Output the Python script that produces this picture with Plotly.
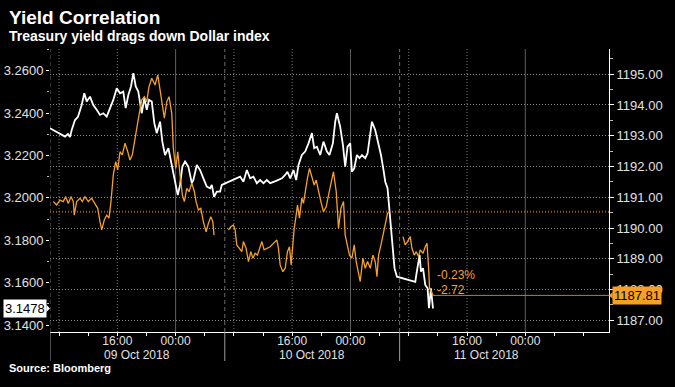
import plotly.graph_objects as go
import pandas as pd

BASE = pd.Timestamp("2018-10-09 00:00")

# Treasury yield (white, left axis): hours since 09 Oct 2018 00:00, yield
white_hours = [6.75, 8.82, 9.23, 9.50, 9.74, 10.19, 10.60, 11.11, 11.47, 11.80,
               12.25, 12.70, 13.17, 13.62, 14.08, 14.54, 15.00, 15.45, 15.92, 16.37,
               16.82, 17.15, 17.51, 17.88, 18.20, 18.53, 18.88, 19.35, 19.71, 20.04,
               20.35, 20.73, 21.08, 21.41, 21.87, 22.18, 22.55, 23.01, 23.47, 23.93,
               24.30, 24.61, 24.93, 25.30, 25.75, 26.22, 26.44, 26.91, 27.36, 27.81,
               28.28, 28.74, 28.97, 29.28, 29.66, 30.11, 30.34, 32.86, 33.31, 33.78,
               34.23, 34.68, 35.15, 35.60, 36.06, 36.52, 36.98, 37.80, 38.12, 38.59,
               39.04, 39.35, 39.73, 40.18, 40.55, 40.87, 41.33, 41.79, 42.24, 42.71,
               43.02, 43.39, 43.85, 44.30, 44.77, 45.12, 45.59, 45.91, 46.14, 46.59,
               46.97, 47.28, 47.60, 47.97, 48.20, 48.52, 48.89, 49.25, 49.58, 50.03,
               50.35, 50.62, 50.95, 51.40, 51.86, 52.19, 52.54, 52.78, 53.09, 53.37,
               53.60, 53.83, 54.05, 54.38, 56.90, 57.04, 57.21, 57.49, 57.68, 57.96,
               58.27, 58.59, 58.78, 59.05, 59.33]
white_yield = [3.2328, 3.2289, 3.2301, 3.2287, 3.2320, 3.2367, 3.2382, 3.2438, 3.2493, 3.2454,
               3.2477, 3.2438, 3.2415, 3.2391, 3.2399, 3.2383, 3.2423, 3.2462, 3.2517, 3.2493,
               3.2501, 3.2423, 3.2485, 3.2525, 3.2588, 3.2525, 3.2501, 3.2399, 3.2470, 3.2415,
               3.2462, 3.2454, 3.2352, 3.2305, 3.2359, 3.2265, 3.2202, 3.2234, 3.2155, 3.2076,
               3.2013, 3.2061, 3.2147, 3.2171, 3.2147, 3.2069, 3.2084, 3.2155, 3.2131, 3.2092,
               3.2053, 3.2045, 3.2061, 3.2005, 3.2029, 3.2029, 3.2061, 3.2100, 3.2076, 3.2131,
               3.2092, 3.2100, 3.2069, 3.2084, 3.2069, 3.2084, 3.2069, 3.2080, 3.2084, 3.2092,
               3.2108, 3.2123, 3.2092, 3.2131, 3.2084, 3.2155, 3.2202, 3.2218, 3.2257, 3.2305,
               3.2234, 3.2241, 3.2202, 3.2265, 3.2218, 3.2202, 3.2257, 3.2359, 3.2399, 3.2336,
               3.2249, 3.2147, 3.2241, 3.2257, 3.2123, 3.2139, 3.2202, 3.2187, 3.2202, 3.2187,
               3.2210, 3.2289, 3.2359, 3.2320, 3.2249, 3.2202, 3.2131, 3.2076, 3.2045, 3.1935,
               3.1856, 3.1730, 3.1668, 3.1628, 3.1604, 3.1636, 3.1668, 3.1730, 3.1652, 3.1668,
               3.1589, 3.1573, 3.1479, 3.1573, 3.1478]

# Dollar index (orange, right axis); None marks gaps in trading
orange_hours = [7.21, 7.67, 8.13, 8.58, 8.91, 9.27, 9.64, 9.96, 10.09, 10.42,
                10.88, 11.19, 11.56, 12.02, 12.48, 12.94, 13.31, 13.62, 13.86, 14.21,
                14.54, 14.86, 15.13, 15.45, 15.78, 16.05, 16.37, 16.69, 17.06, 17.43,
                17.74, 18.06, 18.34, 18.67, 18.98, 19.35, 19.71, 20.04, 20.35, 20.73,
                21.18, 21.55, 21.87, 22.18, 22.46, 22.79, 23.10, 23.47, 23.69, 24.02,
                24.30, 24.61, 24.93, 25.20, 25.53, 25.85, 26.22, 26.58, 26.81, 27.13,
                27.46, 27.81, 28.19, 28.50, 28.83, 29.11, 29.28, 30.20,
                31.25, 31.58, 31.94, 32.17, 32.40, 32.76, 33.09, 33.31, 33.68, 34.00,
                34.33, 34.60, 34.92, 35.23, 35.60, 35.84, 36.15, 36.52, 36.98, 37.43,
                37.90, 38.12, 38.35, 38.72, 39.04, 39.35, 39.63, 39.86, 40.10, 40.28,
                40.55, 40.73, 41.00, 41.33, 41.55, 41.79, 42.10, 42.38, 42.71, 43.02,
                43.30, 43.61, 43.94, 44.30, 44.67, 44.99, 45.32, 45.67, 46.05, 46.36,
                46.69, 47.05, 47.28, 47.60, 47.87, 48.20, 48.52, 48.79, 49.11, 49.34,
                49.71, 50.03, 50.35, 50.72, 51.09, 51.40, 51.64, 51.86, 52.19, 52.46,
                52.78, 53.09, 53.37, 54.30,
                55.21, 55.52, 55.84, 56.21, 56.44, 56.76, 57.04, 57.35, 57.58, 57.96,
                58.27, 58.51, 58.73, 58.86, 59.33]
orange_dxy = [1190.86, 1190.75, 1190.91, 1190.86, 1191.02, 1190.80, 1191.02, 1190.86, 1190.42, 1190.86,
              1190.97, 1190.86, 1191.02, 1190.86, 1190.97, 1190.80, 1190.64, 1190.21, 1189.94, 1190.26,
              1190.42, 1190.32, 1190.86, 1191.73, 1192.16, 1191.89, 1192.48, 1192.38, 1192.76, 1192.48,
              1192.21, 1192.38, 1192.81, 1193.24, 1193.68, 1194.16, 1194.27, 1194.11, 1194.60, 1194.87,
              1194.65, 1194.98, 1194.43, 1194.00, 1193.57, 1194.11, 1194.27, 1193.73, 1192.59, 1191.94,
              1192.48, 1191.73, 1191.07, 1190.86, 1191.29, 1191.18, 1191.46, 1191.18, 1190.86, 1190.59,
              1190.64, 1190.21, 1189.88, 1190.15, 1190.37, 1190.21, 1189.77, None,
              1189.94, 1190.04, 1190.10, 1189.94, 1189.45, 1189.34, 1189.23, 1189.56, 1189.34, 1188.91,
              1189.23, 1189.02, 1189.18, 1189.12, 1189.39, 1189.56, 1189.29, 1189.34, 1189.39, 1189.50,
              1189.61, 1189.34, 1188.80, 1188.58, 1188.69, 1189.23, 1189.39, 1188.80, 1189.56, 1189.99,
              1190.42, 1190.75, 1190.32, 1190.97, 1190.80, 1191.18, 1191.62, 1191.94, 1191.62, 1191.40,
              1191.56, 1191.18, 1190.86, 1190.53, 1190.69, 1191.07, 1191.46, 1191.83, 1191.18, 1189.99,
              1190.64, 1190.86, 1189.77, 1189.45, 1189.12, 1189.02, 1189.45, 1188.91, 1188.58, 1188.26,
              1189.02, 1188.69, 1188.91, 1188.69, 1189.12, 1188.91, 1188.42, 1189.12, 1189.45, 1189.77,
              1190.21, 1190.48, 1190.53, None,
              1189.72, 1189.45, 1189.56, 1189.72, 1189.34, 1189.12, 1189.23, 1189.07, 1189.29, 1189.18,
              1189.39, 1189.50, 1188.69, 1188.04, 1187.81]
dxy_start = 1190.53

left_ticks = [3.14, 3.16, 3.18, 3.20, 3.22, 3.24, 3.26]
right_ticks = [1187, 1188, 1189, 1190, 1191, 1192, 1193, 1194, 1195]
x_tick_hours = list(range(8, 84, 4))
grid8_hours = [8, 16, 32, 40, 56, 64]
midnight_hours = [24, 48, 72]
session_hours = [6.76, 30.75, 54.75]
day_labels = ["09 Oct 2018", "10 Oct 2018", "11 Oct 2018"]
day_label_hours = [18.7, 42.7, 66.7]

X_RANGE = [6.76, 83.49]
LEFT_RANGE = [3.1367, 3.2702]
RIGHT_RANGE = [1186.62, 1195.82]

ORANGE = "#f5a02a"
FONT = "Liberation Sans, Arial, sans-serif"
FINE_DOT = "1px,2px"


def t(h):
    return BASE + pd.Timedelta(hours=h)


fig = go.Figure()
fig.add_trace(go.Scatter(x=[t(h) for h in orange_hours], y=orange_dxy, yaxis="y2",
                         mode="lines", line=dict(color=ORANGE, width=1.3),
                         connectgaps=False, showlegend=False))
fig.add_trace(go.Scatter(x=[t(h) for h in white_hours], y=white_yield,
                         mode="lines", line=dict(color="#ffffff", width=1.8),
                         showlegend=False))

shapes = []
for h in grid8_hours:
    shapes.append(dict(type="line", xref="x", yref="paper", x0=t(h), x1=t(h), y0=0, y1=1,
                       line=dict(color="#7a7a7a", width=1, dash=FINE_DOT), layer="below"))
for h in midnight_hours:
    shapes.append(dict(type="line", xref="x", yref="paper", x0=t(h), x1=t(h), y0=0, y1=1,
                       line=dict(color="#5e5e5e", width=1), layer="below"))
for h in session_hours:
    shapes.append(dict(type="line", xref="x", yref="paper", x0=t(h), x1=t(h), y0=0, y1=1,
                       line=dict(color="#6a6a6a", width=1, dash="4px,3px"), layer="below"))
    shapes.append(dict(type="line", xref="x", yref="paper", x0=t(h), x1=t(h), y0=-0.1025, y1=0,
                       line=dict(color="#9a9a9a", width=1), layer="above"))
# start-value reference line for dollar index
shapes.append(dict(type="line", xref="paper", yref="y2", x0=0, x1=1, y0=dxy_start, y1=dxy_start,
                   line=dict(color="#9a5c16", width=2, dash=FINE_DOT), layer="below"))
# last-value line for dollar index
last_dxy = orange_dxy[-1]
shapes.append(dict(type="line", xref="x", yref="y2", x0=t(orange_hours[-1]), x1=t(X_RANGE[1]),
                   y0=last_dxy, y1=last_dxy, line=dict(color="#c07f26", width=1), layer="above"))
# label pointers
last_yield = white_yield[-1]
shapes.append(dict(type="path", xref="paper", yref="y",
                   path=f"M -0.0065,{last_yield + 0.0017} L 0,{last_yield} L -0.0065,{last_yield - 0.0017} Z",
                   fillcolor="#ffffff", line=dict(width=0), layer="above"))
shapes.append(dict(type="path", xref="paper", yref="y2",
                   path=f"M 1.0065,{last_dxy + 0.11} L 1.0,{last_dxy} L 1.0065,{last_dxy - 0.11} Z",
                   fillcolor=ORANGE, line=dict(width=0), layer="above"))

change = last_dxy - dxy_start
pct = change / dxy_start * 100

annotations = [
    dict(text="<b>Yield Correlation</b>", xref="paper", yref="paper", x=-0.077, y=1.11,
         xanchor="left", yanchor="middle", showarrow=False,
         font=dict(family=FONT, size=19, color="#ffffff")),
    dict(text="<b>Treasury yield drags down Dollar index</b>", xref="paper", yref="paper",
         x=-0.077, y=1.045, xanchor="left", yanchor="middle", showarrow=False,
         font=dict(family=FONT, size=14, color="#ffffff")),
    dict(text="<b>Source: Bloomberg</b>", xref="paper", yref="paper", x=-0.077, y=-0.127,
         xanchor="left", yanchor="middle", showarrow=False,
         font=dict(family=FONT, size=11, color="#ffffff")),
    dict(text=f"{last_yield:.4f}", xref="paper", yref="y", x=0, y=last_yield, xshift=-3,
         xanchor="right", yanchor="middle", showarrow=False, bgcolor="#ffffff",
         borderpad=1, font=dict(family=FONT, size=13, color="#000000")),
    dict(text=f"{last_dxy:.2f}", xref="paper", yref="y2", x=1, y=last_dxy, xshift=3,
         xanchor="left", yanchor="middle", showarrow=False, bgcolor=ORANGE,
         borderpad=1, font=dict(family=FONT, size=13, color="#000000")),
    dict(text=f"-{abs(pct):.2f}%", xref="x", yref="y2", x=t(59.6), y=1188.47,
         xanchor="left", yanchor="middle", showarrow=False,
         font=dict(family=FONT, size=12, color=ORANGE)),
    dict(text=f"-{abs(change):.2f}", xref="x", yref="y2", x=t(59.6), y=1187.99,
         xanchor="left", yanchor="middle", showarrow=False,
         font=dict(family=FONT, size=12, color=ORANGE)),
]
for lab, h in zip(day_labels, day_label_hours):
    annotations.append(dict(text=lab, xref="x", yref="paper", x=t(h), y=-0.081,
                            xanchor="center", yanchor="middle", showarrow=False,
                            font=dict(family=FONT, size=12, color="#e0e0e0")))


def xtext(h):
    if h % 24 == 16:
        return "16:00"
    if h % 24 == 0:
        return "00:00"
    return ""


fig.update_layout(
    width=675, height=387,
    margin=dict(l=50, r=66, t=49, b=55),
    paper_bgcolor="#000000", plot_bgcolor="#000000",
    font=dict(family=FONT, size=12, color="#e0e0e0"),
    shapes=shapes, annotations=annotations,
    xaxis=dict(type="date", range=[t(X_RANGE[0]), t(X_RANGE[1])], showgrid=False,
               zeroline=False, showline=True, linecolor="#ffffff", linewidth=1,
               ticks="outside", ticklen=3, tickcolor="#ffffff",
               tickmode="array", tickvals=[t(h) for h in x_tick_hours],
               ticktext=[xtext(h) for h in x_tick_hours], ticklabelstandoff=-5,
               tickfont=dict(size=12, color="#e0e0e0"), automargin=False),
    yaxis=dict(range=LEFT_RANGE, showgrid=False, zeroline=False, showline=False,
               tickmode="array", tickvals=left_ticks, ticktext=[f"{v:.4f}" for v in left_ticks],
               ticks="outside", ticklen=3, tickcolor="#ffffff",
               minor=dict(dtick=0.01, ticks="outside", ticklen=2, tickcolor="#bbbbbb", showgrid=False),
               tickfont=dict(size=13, color="#e0e0e0"), automargin=False),
    yaxis2=dict(range=RIGHT_RANGE, overlaying="y", side="right", zeroline=False,
                showgrid=True, gridcolor="#8a8a8a", griddash=FINE_DOT, gridwidth=1,
                showline=True, linecolor="#ffffff", linewidth=1,
                tickmode="array", tickvals=right_ticks, ticktext=[f"{v:.2f}" for v in right_ticks],
                ticks="outside", ticklen=4, tickcolor="#ffffff",
                minor=dict(dtick=0.5, ticks="outside", ticklen=3, tickcolor="#bbbbbb", showgrid=False),
                tickfont=dict(size=13, color="#e0e0e0"), automargin=False),
)

fig.write_html("out.html", config={"displayModeBar": False},
               post_script="document.body.style.margin='0';document.body.style.padding='0';")
